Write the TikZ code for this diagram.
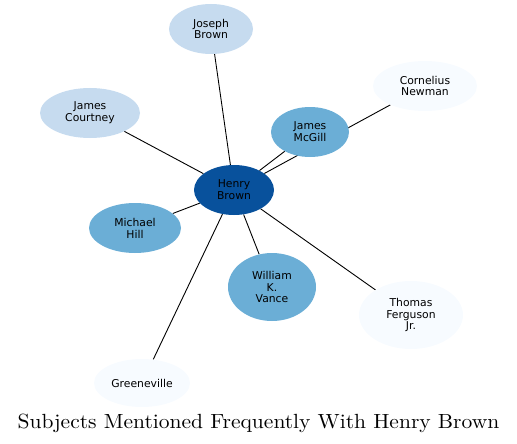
\documentclass[tikz,border=0pt]{standalone}
\usepackage{fontspec}
\newfontfamily\nodefont{DejaVu Sans}
\newfontfamily\titlefont{lmroman10-regular.otf}
\usetikzlibrary{shapes.geometric}
\pgfdeclarelayer{edges}
\pgfsetlayers{edges,main}
\definecolor{cA}{HTML}{C6DBEF}
\definecolor{cB}{HTML}{6BAED6}
\definecolor{cC}{HTML}{08519C}
\definecolor{cD}{HTML}{F7FBFF}
\tikzset{
  ent/.style={ellipse, inner sep=0pt, draw=none, align=center,
    font=\nodefont\fontsize{10.8}{11.8}\selectfont, text=black},
  edge/.style={draw=black, line width=0.9pt},
}
\begin{document}
\begin{tikzpicture}[x=1pt,y=-1pt]
\useasboundingbox (0,0) rectangle (517,444);
\node[ent, fill=cA, minimum width=84pt, minimum height=50pt] (jb) at (211,29) {Joseph\\Brown};
\node[ent, fill=cA, minimum width=100pt, minimum height=50pt] (jc) at (90,113) {James\\Courtney};
\node[ent, fill=cD, minimum width=104pt, minimum height=50pt] (cn) at (425,86) {Cornelius\\Newman};
\node[ent, fill=cB, minimum width=78pt, minimum height=50pt] (jm) at (310,132) {James\\McGill};
\node[ent, fill=cC, minimum width=80pt, minimum height=50pt] (hb) at (234,190) {Henry\\Brown};
\node[ent, fill=cB, minimum width=92pt, minimum height=50pt] (mh) at (135,228) {Michael\\Hill};
\node[ent, fill=cB, minimum width=88pt, minimum height=68pt] (wv) at (272,287) {William\\K.\\Vance};
\node[ent, fill=cD, minimum width=104pt, minimum height=68pt] (tf) at (411,315) {Thomas\\Ferguson\\Jr.};
\node[ent, fill=cD, minimum width=96pt, minimum height=48pt] (gv) at (142,383) {Greeneville};
\node[font=\titlefont\fontsize{20.5}{22}\selectfont, inner sep=0pt, xscale=1.05, transform shape] (title) at (258.5,423) {Subjects Mentioned Frequently With Henry Brown};
\begin{pgfonlayer}{edges}
\draw[edge] (hb) -- (jb);
\draw[edge] (hb) -- (jc);
\draw[edge] (hb) -- (cn);
\draw[edge] (hb) -- (jm);
\draw[edge] (hb) -- (mh);
\draw[edge] (hb) -- (wv);
\draw[edge] (hb) -- (tf);
\draw[edge] (hb) -- (gv);
\end{pgfonlayer}
\end{tikzpicture}
\end{document}
